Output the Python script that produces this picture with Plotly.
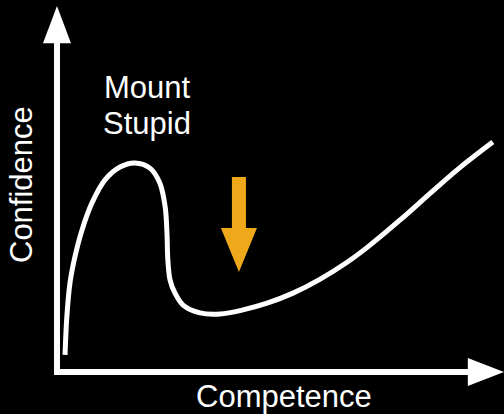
import plotly.graph_objects as go

# Dunning-Kruger style curve, competence vs confidence (0-100 scales)
competence = [1.8, 2.2, 2.9, 4.0, 5.6, 7.8, 10.7, 14.1, 17.4, 20.8, 23.0, 24.2,
              24.6, 24.8, 25.3, 26.4, 28.2, 32.0, 36.5, 41.6, 47.0, 52.8, 58.8,
              64.9, 69.4, 76.7, 84.1, 90.2, 97.5]
confidence = [4.6, 14.8, 23.9, 30.9, 38.2, 45.4, 51.6, 55.1, 56.2, 54.8, 50.8, 44.4,
              37.4, 30.1, 24.7, 21.2, 18.0, 15.9, 15.6, 16.7, 18.5, 21.2, 24.9,
              29.5, 33.5, 40.8, 48.7, 55.0, 61.8]

peak_label = ["Mount", "Stupid"]
x_label = "Competence"
y_label = "Confidence"

# orange "valley" pointer: x centre, top of shaft, bottom of shaft, tip
pointer_x = 40.7
pointer_top = 52.4
pointer_neck = 38.7
pointer_tip = 26.9

WHITE = "#ffffff"
ORANGE = "#eea819"
FONT = "Liberation Sans, Arial, sans-serif"

fig = go.Figure()

fig.add_trace(go.Scatter(
    x=competence, y=confidence, mode="lines",
    line=dict(color=WHITE, width=5, shape="spline", smoothing=1.0),
    hoverinfo="skip", showlegend=False,
))

def tri(points):
    return "M " + " L ".join(f"{x},{y}" for x, y in points) + " Z"

shapes = [
    # y axis + arrowhead
    dict(type="line", x0=0, x1=0, y0=-0.8, y1=88.6, line=dict(color=WHITE, width=6)),
    dict(type="path", path=tri([(-3.13, 88.4), (3.13, 88.4), (0, 98.4)]),
         fillcolor=WHITE, line=dict(width=0)),
    # x axis + arrowhead
    dict(type="line", x0=-0.67, x1=92.2, y0=0, y1=0, line=dict(color=WHITE, width=6)),
    dict(type="path", path=tri([(91.9, -3.76), (91.9, 3.76), (100, 0)]),
         fillcolor=WHITE, line=dict(width=0)),
    # orange pointer
    dict(type="path",
         path=tri([(pointer_x - 1.57, pointer_top), (pointer_x + 1.57, pointer_top),
                   (pointer_x + 1.57, pointer_neck), (pointer_x + 4.03, pointer_neck),
                   (pointer_x, pointer_tip), (pointer_x - 4.03, pointer_neck),
                   (pointer_x - 1.57, pointer_neck)]),
         fillcolor=ORANGE, line=dict(width=0)),
]

font = dict(family=FONT, size=31, color=WHITE)
annotations = [
    dict(x=20.2, y=76.5, text=peak_label[0], showarrow=False, font=font,
         xanchor="center", yanchor="middle"),
    dict(x=20.2, y=66.7, text=peak_label[1], showarrow=False, font=font,
         xanchor="center", yanchor="middle"),
    dict(x=50.8, y=-6.7, text=x_label, showarrow=False, font=font,
         xanchor="center", yanchor="middle"),
    dict(x=-7.8, y=50.3, text=y_label, showarrow=False, font=font, textangle=-90,
         xanchor="center", yanchor="middle"),
]

fig.update_layout(
    width=504, height=414,
    margin=dict(l=0, r=0, t=0, b=0),
    paper_bgcolor="black", plot_bgcolor="black",
    shapes=shapes, annotations=annotations,
    xaxis=dict(range=[-12.75, 100], visible=False, fixedrange=True),
    yaxis=dict(range=[-11.29, 100], visible=False, fixedrange=True),
    showlegend=False,
)

# page has a default 8px body margin, drop it so the chart fills the window
fig.write_html("out.html", config={"displayModeBar": False},
               post_script="document.body.style.margin='0';"
                           "document.body.style.background='black';")
